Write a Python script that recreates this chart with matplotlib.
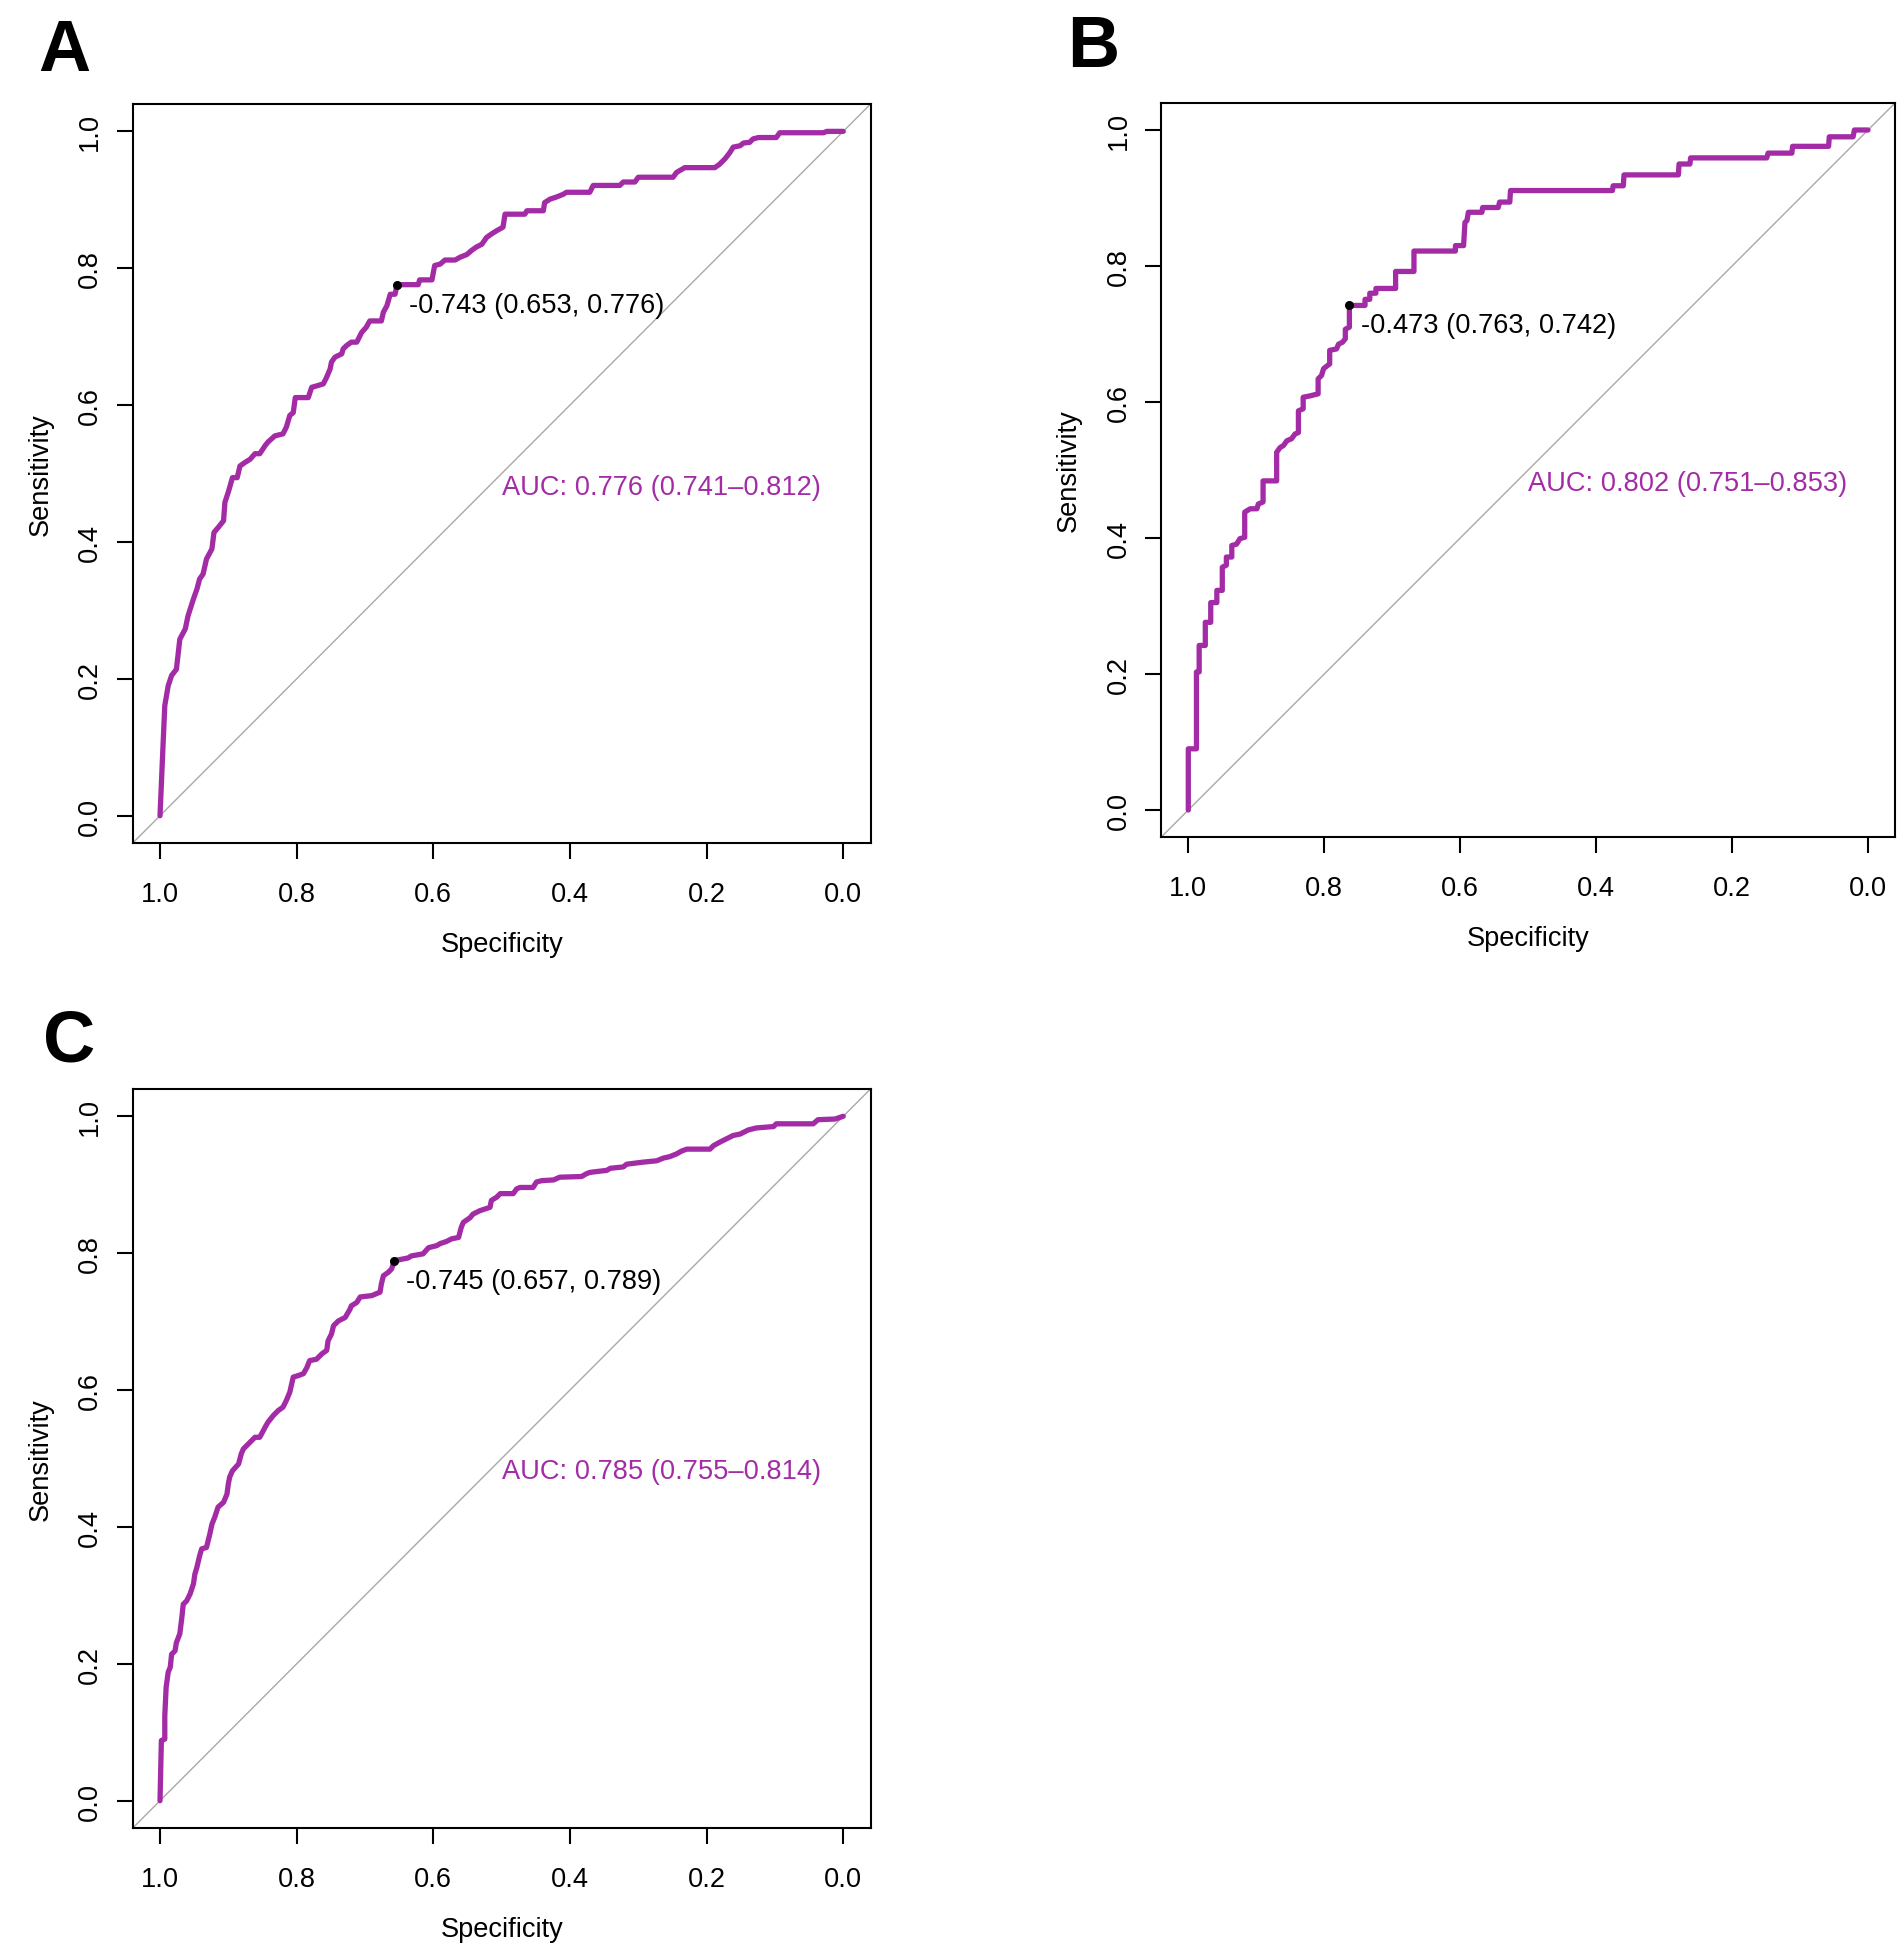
import matplotlib
matplotlib.use("Agg")
import matplotlib.pyplot as plt

plt.rcParams['font.family'] = ['Liberation Sans', 'DejaVu Sans']

# ---------------- data ----------------
panel_labels = ["A", "B", "C"]

spec_A = [1.000, 0.996, 0.993, 0.988, 0.983, 0.976, 0.971, 0.963, 0.959, 0.951,
          0.946, 0.942, 0.937, 0.932, 0.924, 0.921, 0.915, 0.907, 0.905, 0.900,
          0.894, 0.887, 0.883, 0.876, 0.868, 0.861, 0.854, 0.846, 0.842, 0.832,
          0.820, 0.815, 0.810, 0.805, 0.802, 0.783, 0.778, 0.771, 0.761, 0.756,
          0.751, 0.749, 0.744, 0.734, 0.732, 0.727, 0.720, 0.712, 0.705, 0.698,
          0.693, 0.676, 0.673, 0.668, 0.663, 0.656, 0.653, 0.622, 0.620, 0.602,
          0.598, 0.590, 0.583, 0.568, 0.561, 0.551, 0.544, 0.537, 0.529, 0.522,
          0.515, 0.507, 0.498, 0.495, 0.466, 0.463, 0.439, 0.437, 0.429, 0.420,
          0.410, 0.405, 0.371, 0.366, 0.327, 0.322, 0.305, 0.300, 0.249, 0.244,
          0.232, 0.188, 0.181, 0.173, 0.166, 0.161, 0.151, 0.146, 0.137, 0.132,
          0.124, 0.098, 0.093, 0.029, 0.024, 0.000]
sens_A = [0.000, 0.093, 0.161, 0.190, 0.205, 0.214, 0.258, 0.273, 0.292, 0.317,
          0.331, 0.346, 0.353, 0.375, 0.390, 0.414, 0.421, 0.431, 0.458, 0.473,
          0.494, 0.494, 0.511, 0.516, 0.521, 0.529, 0.529, 0.541, 0.546, 0.555,
          0.558, 0.568, 0.585, 0.589, 0.611, 0.611, 0.626, 0.628, 0.631, 0.641,
          0.653, 0.663, 0.670, 0.675, 0.682, 0.687, 0.692, 0.692, 0.706, 0.714,
          0.723, 0.723, 0.736, 0.745, 0.762, 0.762, 0.776, 0.776, 0.783, 0.783,
          0.804, 0.806, 0.812, 0.812, 0.816, 0.820, 0.826, 0.831, 0.835, 0.845,
          0.850, 0.855, 0.860, 0.879, 0.879, 0.884, 0.884, 0.896, 0.901, 0.904,
          0.908, 0.911, 0.911, 0.921, 0.921, 0.926, 0.926, 0.933, 0.933, 0.940,
          0.947, 0.947, 0.952, 0.960, 0.969, 0.977, 0.979, 0.983, 0.984, 0.989,
          0.991, 0.991, 0.998, 0.998, 1.000, 1.000]

spec_B = [1.000, 1.000, 0.988, 0.988, 0.984, 0.984, 0.975, 0.975, 0.967, 0.967,
          0.958, 0.958, 0.950, 0.950, 0.944, 0.944, 0.936, 0.936, 0.929, 0.924,
          0.917, 0.917, 0.909, 0.899, 0.897, 0.890, 0.890, 0.870, 0.870, 0.865,
          0.860, 0.855, 0.848, 0.843, 0.838, 0.838, 0.831, 0.831, 0.821, 0.809,
          0.809, 0.804, 0.801, 0.796, 0.792, 0.792, 0.782, 0.779, 0.773, 0.769,
          0.769, 0.763, 0.763, 0.740, 0.740, 0.733, 0.733, 0.724, 0.724, 0.695,
          0.695, 0.668, 0.668, 0.607, 0.607, 0.595, 0.593, 0.590, 0.588, 0.568,
          0.567, 0.544, 0.542, 0.527, 0.526, 0.376, 0.375, 0.360, 0.359, 0.279,
          0.278, 0.262, 0.261, 0.149, 0.147, 0.112, 0.111, 0.058, 0.057, 0.022,
          0.020, 0.000]
sens_B = [0.000, 0.090, 0.090, 0.203, 0.203, 0.242, 0.242, 0.276, 0.276, 0.305,
          0.305, 0.323, 0.323, 0.357, 0.360, 0.372, 0.372, 0.389, 0.391, 0.399,
          0.401, 0.438, 0.443, 0.443, 0.450, 0.453, 0.484, 0.484, 0.526, 0.533,
          0.536, 0.543, 0.546, 0.553, 0.555, 0.587, 0.590, 0.607, 0.609, 0.612,
          0.634, 0.639, 0.649, 0.653, 0.656, 0.676, 0.678, 0.685, 0.688, 0.693,
          0.707, 0.710, 0.742, 0.742, 0.751, 0.751, 0.760, 0.760, 0.767, 0.767,
          0.792, 0.792, 0.822, 0.822, 0.830, 0.830, 0.864, 0.867, 0.879, 0.879,
          0.886, 0.886, 0.894, 0.894, 0.911, 0.911, 0.918, 0.918, 0.934, 0.934,
          0.950, 0.950, 0.959, 0.959, 0.966, 0.966, 0.976, 0.976, 0.990, 0.990,
          1.000, 1.000]

spec_C = [1.000, 0.998, 0.993, 0.993, 0.991, 0.988, 0.985, 0.983, 0.978, 0.976,
          0.971, 0.968, 0.966, 0.961, 0.956, 0.951, 0.949, 0.946, 0.942, 0.939,
          0.932, 0.927, 0.924, 0.920, 0.915, 0.907, 0.902, 0.900, 0.898, 0.894,
          0.885, 0.881, 0.878, 0.868, 0.861, 0.854, 0.846, 0.842, 0.834, 0.827,
          0.820, 0.815, 0.810, 0.805, 0.798, 0.790, 0.785, 0.781, 0.771, 0.763,
          0.756, 0.754, 0.749, 0.746, 0.739, 0.729, 0.722, 0.720, 0.712, 0.707,
          0.690, 0.678, 0.676, 0.673, 0.666, 0.661, 0.657, 0.637, 0.632, 0.615,
          0.607, 0.595, 0.590, 0.581, 0.573, 0.563, 0.559, 0.556, 0.546, 0.542,
          0.532, 0.517, 0.515, 0.507, 0.502, 0.483, 0.478, 0.473, 0.454, 0.449,
          0.441, 0.424, 0.415, 0.383, 0.376, 0.371, 0.346, 0.341, 0.322, 0.317,
          0.293, 0.273, 0.263, 0.254, 0.244, 0.237, 0.229, 0.195, 0.190, 0.181,
          0.171, 0.161, 0.151, 0.139, 0.127, 0.102, 0.098, 0.044, 0.037, 0.012,
          0.000]
sens_C = [0.000, 0.088, 0.090, 0.124, 0.166, 0.188, 0.195, 0.214, 0.219, 0.231,
          0.244, 0.268, 0.287, 0.292, 0.302, 0.317, 0.331, 0.341, 0.358, 0.368,
          0.370, 0.390, 0.404, 0.414, 0.429, 0.436, 0.448, 0.463, 0.473, 0.482,
          0.492, 0.507, 0.514, 0.524, 0.531, 0.531, 0.546, 0.553, 0.563, 0.570,
          0.575, 0.585, 0.597, 0.619, 0.621, 0.624, 0.633, 0.643, 0.645, 0.653,
          0.658, 0.672, 0.682, 0.694, 0.701, 0.706, 0.718, 0.723, 0.728, 0.736,
          0.738, 0.743, 0.755, 0.767, 0.772, 0.777, 0.789, 0.793, 0.796, 0.799,
          0.808, 0.811, 0.814, 0.817, 0.821, 0.823, 0.838, 0.845, 0.852, 0.857,
          0.862, 0.867, 0.877, 0.882, 0.887, 0.887, 0.894, 0.896, 0.896, 0.904,
          0.906, 0.907, 0.911, 0.912, 0.916, 0.918, 0.921, 0.924, 0.926, 0.930,
          0.933, 0.935, 0.939, 0.941, 0.945, 0.949, 0.952, 0.952, 0.957, 0.962,
          0.967, 0.972, 0.974, 0.980, 0.983, 0.985, 0.989, 0.989, 0.995, 0.996,
          1.000]

thr_spec = [0.653, 0.763, 0.657]
thr_sens = [0.776, 0.742, 0.789]
thr_texts = ["-0.743 (0.653, 0.776)", "-0.473 (0.763, 0.742)", "-0.745 (0.657, 0.789)"]
auc_texts = ["AUC: 0.776 (0.741\u20130.812)", "AUC: 0.802 (0.751\u20130.853)",
             "AUC: 0.785 (0.755\u20130.814)"]

tick_values = [1.0, 0.8, 0.6, 0.4, 0.2, 0.0]
tick_labels = ["1.0", "0.8", "0.6", "0.4", "0.2", "0.0"]

# ---------------- style ----------------
PURPLE = "#A32CA6"
FS = 19.6

fig = plt.figure(figsize=(19, 19.56), dpi=100)

positions = [
    [0.06983, 0.56846, 0.38837, 0.37786],
    [0.61111, 0.57147, 0.38637, 0.37546],
    [0.06983, 0.06488, 0.38837, 0.37791],
]
letter_pos = [(0.0200, 0.9637), (0.5616, 0.9657), (0.0226, 0.4571)]

specs = [spec_A, spec_B, spec_C]
senss = [sens_A, sens_B, sens_C]

for i in range(3):
    ax = fig.add_axes(positions[i])
    ax.set_xlim(1.04, -0.04)
    ax.set_ylim(-0.04, 1.04)
    ax.axline((1, 0), (0, 1), color="#A9A9A9", lw=1.0, zorder=1)
    ax.plot(specs[i], senss[i], color=PURPLE, lw=3.8, zorder=2,
            solid_joinstyle="round", solid_capstyle="round")
    ax.plot([thr_spec[i]], [thr_sens[i]], "o", color="black", ms=5.5, zorder=3)
    ax.annotate(thr_texts[i], xy=(thr_spec[i], thr_sens[i]), xytext=(8.6, -19.4),
                textcoords="offset points", ha="left", va="baseline",
                fontsize=FS, color="black")
    ax.text(0.5, 0.5, auc_texts[i], color=PURPLE, ha="left", va="top", fontsize=FS)

    ax.set_xticks(tick_values)
    ax.set_xticklabels(tick_labels)
    ax.set_yticks(tick_values)
    ax.set_yticklabels(tick_labels, rotation=90, va="center")
    ax.tick_params(length=11.3, width=1.5, labelsize=FS, direction="out")
    ax.tick_params(axis="x", pad=16)
    ax.tick_params(axis="y", pad=10)
    for s in ax.spines.values():
        s.set_linewidth(1.5)
    ax.set_xlabel("Specificity", fontsize=FS, labelpad=17)
    ax.set_ylabel("Sensitivity", fontsize=FS, labelpad=17)

    fig.text(letter_pos[i][0], letter_pos[i][1], panel_labels[i], fontsize=52,
             fontweight="bold", family=["Liberation Sans", "DejaVu Sans"],
             ha="left", va="baseline")

fig.savefig("out.png", dpi=100)
